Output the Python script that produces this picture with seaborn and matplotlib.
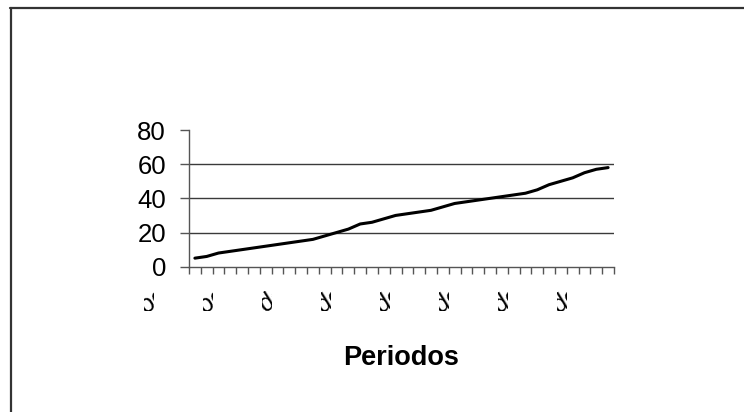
import matplotlib
matplotlib.use("Agg")
import matplotlib.pyplot as plt
from matplotlib.lines import Line2D
from matplotlib.transforms import Bbox
import seaborn as sns
import pandas as pd
import numpy as np

# Cumulative value per period
periodos = list(range(1, 37))
valores = [5, 6, 8, 9, 10, 11, 12, 13, 14, 15, 16, 18, 20, 22, 25, 26, 28, 30,
           31, 32, 33, 35, 37, 38, 39, 40, 41, 42, 43, 45, 48, 50, 52, 55, 57, 58]
etiquetas = ["Periodo 1", "Periodo 6", "Periodo 11", "Periodo 16",
             "Periodo 21", "Periodo 26", "Periodo 31", "Periodo 36"]
y_ticks = [0, 20, 40, 60, 80]

df = pd.DataFrame({"pos": np.arange(len(periodos)), "valor": valores})

sns.set_style("white")
plt.rcParams["font.family"] = ["Liberation Sans", "DejaVu Sans"]
plt.rcParams["text.color"] = "black"
plt.rcParams["xtick.labelcolor"] = "black"
plt.rcParams["ytick.labelcolor"] = "black"

W, H, DPI = 744, 412, 100
fig = plt.figure(figsize=(W / DPI, H / DPI), dpi=DPI)
ax = fig.add_axes([189 / W, (H - 266.7) / H, 425 / W, 136.7 / H])

sns.lineplot(data=df, x="pos", y="valor", ax=ax, color="black", lw=2.2)

ax.set_xlim(-0.5, len(periodos) - 0.5)
ax.set_ylim(0, 80)

# y axis
ax.set_yticks(y_ticks)
ax.set_yticklabels([str(v) for v in y_ticks], fontsize=18.5, color="black")
ax.tick_params(axis="y", which="major", direction="out", length=6.5, width=1,
               color="#555555", pad=10, left=True)
ax.yaxis.grid(True, color="#3a3a3a", lw=1)
ax.set_axisbelow(True)
gl = ax.yaxis.get_gridlines()
gl[0].set_visible(False)
gl[-1].set_visible(False)

# x axis: category boundary ticks plus sparse labels
ax.set_xticks(np.arange(-0.5, len(periodos), 1.0), minor=True)
ax.set_xticks(np.arange(0, len(periodos), 5))
ax.set_xticklabels(etiquetas, fontsize=18, rotation=32, ha="right",
                   rotation_mode="anchor", va="center", color="black")
ax.tick_params(axis="x", which="minor", direction="out", length=5, width=1,
               color="#555555", bottom=True)
ax.tick_params(axis="x", which="major", length=0, pad=6)
ax.set_xlabel("")
ax.set_ylabel("")

for s in ["top", "right"]:
    ax.spines[s].set_visible(False)
for s in ["left", "bottom"]:
    ax.spines[s].set_color("#555555")
    ax.spines[s].set_linewidth(1)

fig.text(401 / W, 1 - 358 / H, "Periodos", fontsize=19.5, fontweight="bold",
         ha="center", va="center", color="black")

# outer frame (top and left edges)
fig.add_artist(Line2D([10 / W, 1.0], [1 - 8 / H, 1 - 8 / H],
                      transform=fig.transFigure, color="#333333", lw=1.6))
fig.add_artist(Line2D([11 / W, 11 / W], [0, 1 - 8 / H],
                      transform=fig.transFigure, color="#333333", lw=1.6))

# the category labels only show a small window below the axis
fig.canvas.draw()
for lab, pos in zip(ax.get_xticklabels(), ax.get_xticks()):
    xd, _ = ax.transData.transform((pos, 0))
    lab.set_clip_box(Bbox.from_extents(xd - 51, H - 311, xd - 41, H - 291))
    lab.set_clip_on(True)

fig.savefig("out.png", dpi=DPI, facecolor="white")
